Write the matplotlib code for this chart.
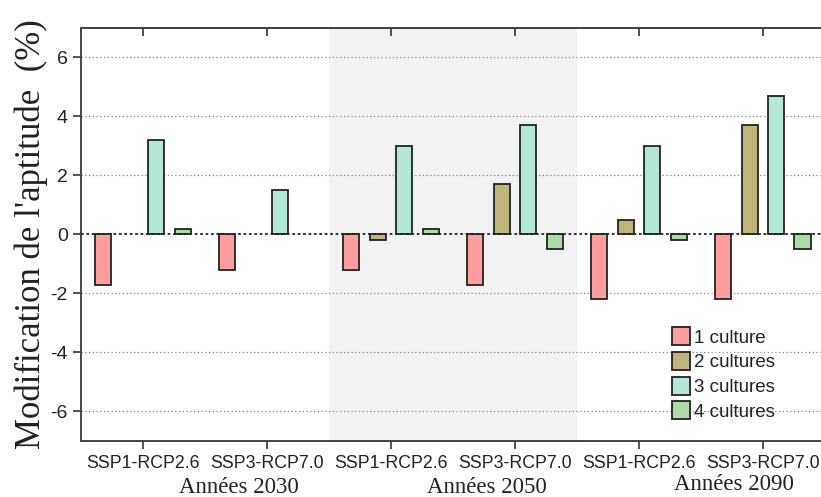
import matplotlib
matplotlib.use("Agg")
import matplotlib.pyplot as plt
import numpy as np
from matplotlib.patches import Patch

scenarios = ["SSP1-RCP2.6", "SSP3-RCP7.0", "SSP1-RCP2.6", "SSP3-RCP7.0", "SSP1-RCP2.6", "SSP3-RCP7.0"]
periods = ["Années 2030", "Années 2050", "Années 2090"]
series_names = ["1 culture", "2 cultures", "3 cultures", "4 cultures"]
culture1 = [-1.7, -1.2, -1.2, -1.7, -2.2, -2.2]
culture2 = [0.0, 0.0, -0.2, 1.7, 0.5, 3.7]
culture3 = [3.2, 1.5, 3.0, 3.7, 3.0, 4.7]
culture4 = [0.2, 0.0, 0.2, -0.5, -0.2, -0.5]
colors = ["#FF9E9E", "#BFB479", "#B4E8D6", "#AADDA6"]
yticks = [-6, -4, -2, 0, 2, 4, 6]

plt.rcParams['font.family'] = ['Liberation Sans', 'DejaVu Sans']
serif = ['Liberation Serif', 'DejaVu Serif']
fig = plt.figure(figsize=(8.21, 4.97), dpi=100)
ax = fig.add_axes([0.0987, 0.1127, 0.906, 0.831])

x = np.arange(len(scenarios))
offsets = [-0.32, -0.107, 0.107, 0.32]
width = 0.13
for vals, off, col in zip([culture1, culture2, culture3, culture4], offsets, colors):
    v = np.array(vals)
    mask = v != 0
    ax.bar(x[mask] + off, v[mask], width=width, color=col, edgecolor="#222222", linewidth=1.3, zorder=3)

ax.set_xlim(-0.5, 5.5)
ax.set_ylim(-7, 7)
ax.axvspan(1.5, 3.5, color="#F2F2F2", zorder=0, lw=0)

for t in yticks:
    if t == 0:
        ax.axhline(0, color="#222222", linestyle=(0, (1.5, 1.5)), linewidth=1.3, zorder=4)
    else:
        ax.axhline(t, color="#888888", linestyle=(0, (1, 2)), linewidth=0.9, zorder=1)

ax.set_yticks(yticks)
ax.set_yticklabels([str(t) for t in yticks], fontsize=14, color="#222222")
ax.set_xticks(x)
ax.set_xticklabels(scenarios, fontsize=12.8, color="#222222")
ax.tick_params(axis='x', direction='out', length=6, width=1.2, color="#333333", pad=4, top=False)
ax.tick_params(axis='y', direction='out', length=6, width=1.2, color="#333333")

for s in ["left", "top", "bottom"]:
    ax.spines[s].set_color("#444444")
    ax.spines[s].set_linewidth(1.4)
ax.spines["right"].set_visible(False)

sec = ax.secondary_xaxis('top')
sec.set_xticks(x)
sec.set_xticklabels([])
sec.tick_params(direction='in', length=6, width=1.2, color="#333333")
sec.spines['top'].set_color("#444444")
sec.spines['top'].set_linewidth(1.4)

ax.set_ylabel("Modification de l'aptitude  (%)", family=serif, fontsize=25, color="#222222", labelpad=2)

# period labels (baseline placed in figure coords)
import matplotlib.transforms as mtransforms
trans = mtransforms.blended_transform_factory(ax.transData, fig.transFigure)
for i, p in enumerate(periods):
    ybase = 4.0 / 497 if i < 2 else 7.0 / 497
    ax.text(2 * i + 0.77, ybase, p, transform=trans, ha='center', va='baseline',
            family=serif, fontsize=16.5, color="#222222", clip_on=False)

handles = [Patch(facecolor=c, edgecolor="#222222", linewidth=1.3) for c in colors]
leg = ax.legend(handles, series_names, loc='lower left', bbox_to_anchor=(0.784, 0.031), frameon=False,
                fontsize=13.5, handlelength=1.0, handleheight=1.1, handletextpad=0.2, labelspacing=0.28,
                borderaxespad=0)
for t in leg.get_texts():
    t.set_color("#222222")

fig.savefig("out.png", dpi=100)
